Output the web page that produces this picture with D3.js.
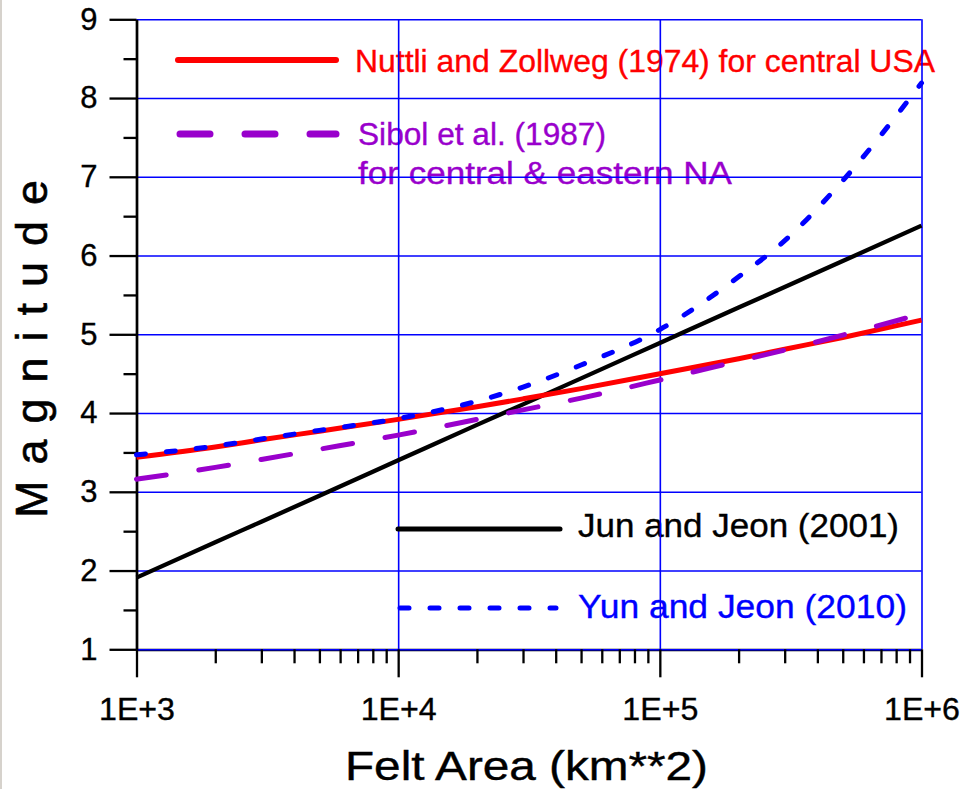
<!DOCTYPE html>
<html>
<head>
<meta charset="utf-8">
<script src="https://cdn.jsdelivr.net/npm/d3@7"></script>
<style>
  body { margin: 0; background: #fff; }
  text { font-family: "Liberation Sans", Arial, sans-serif; }
</style>
</head>
<body>
<svg id="chart"></svg>
<script>
// Felt area vs magnitude relations
const feltArea = [1000, 2000, 3000, 5000, 10000, 20000, 30000, 50000,
                  100000, 200000, 300000, 500000, 1000000];
const nuttliMag = [3.44, 3.57, 3.66, 3.77, 3.92, 4.08, 4.18, 4.31, 4.50, 4.69, 4.81, 4.96, 5.18];
const sibolMag  = [3.16, 3.31, 3.41, 3.54, 3.72, 3.92, 4.04, 4.19, 4.42, 4.66, 4.80, 4.99, 5.26];
const junMag    = [1.91, 2.36, 2.62, 2.95, 3.40, 3.85, 4.11, 4.44, 4.89, 5.34, 5.60, 5.93, 6.38];
const yunMag    = [3.47, 3.58, 3.67, 3.78, 3.93, 4.15, 4.33, 4.61, 5.06, 5.73, 6.19, 6.95, 8.19];

const xMajor = [1e3, 1e4, 1e5, 1e6];
const yMajor = [1, 2, 3, 4, 5, 6, 7, 8, 9];
const yMinor = [1.5, 2.5, 3.5, 4.5, 5.5, 6.5, 7.5, 8.5];

const seriesNames = [
    "Nuttli and Zollweg (1974) for central USA",
    "Sibol et al. (1987)",
    "for central & eastern NA",
    "Jun and Jeon (2001)",
    "Yun and Jeon (2010)"
];

const width = 961, height = 789;
const plot = { left: 136.5, right: 921.5, top: 19.3, bottom: 649.3 };

const svg = d3.select("#chart")
    .attr("width", width)
    .attr("height", height);

svg.append("rect").attr("width", width).attr("height", height).attr("fill", "#fff");
svg.append("rect").attr("width", 2).attr("height", height).attr("fill", "#d6d2cc");

const x = d3.scaleLog().domain([1e3, 1e6]).range([plot.left, plot.right]);
const y = d3.scaleLinear().domain([1, 9]).range([plot.bottom, plot.top]);

// legend labels (grid goes over them like in the original)
const legendText = [
    { t: seriesNames[0], x: 355, y: 72, size: 30.5, len: 580, c: "#ff0000" },
    { t: seriesNames[1], x: 358, y: 145, size: 31, len: 248, c: "#9900cc" },
    { t: seriesNames[2], x: 358, y: 184, size: 31, len: 374, c: "#9900cc" },
    { t: seriesNames[3], x: 578, y: 537, size: 33.5, len: 321, c: "#000" },
    { t: seriesNames[4], x: 578, y: 618, size: 33.5, len: 329, c: "#0000ff" }
];
svg.selectAll(".leg-text")
    .data(legendText)
    .enter()
    .append("text")
    .attr("x", d => d.x)
    .attr("y", d => d.y)
    .attr("font-size", d => d.size)
    .attr("textLength", d => d.len)
    .attr("lengthAdjust", "spacingAndGlyphs")
    .attr("fill", d => d.c)
    .attr("stroke", d => d.c)
    .attr("stroke-width", 0.35)
    .text(d => d.t);

// black bottom axis line sits under the blue grid line
svg.append("line")
    .attr("x1", plot.left).attr("x2", plot.right)
    .attr("y1", plot.bottom + 0.6).attr("y2", plot.bottom + 0.6)
    .attr("stroke", "#000").attr("stroke-width", 2.5);

// grid
svg.append("g")
    .attr("transform", `translate(0,${plot.bottom})`)
    .call(d3.axisBottom(x).tickValues(xMajor).tickSize(-(plot.bottom - plot.top)).tickFormat(""))
    .call(g => g.select(".domain").remove())
    .selectAll("line").attr("stroke", "#0000ff").attr("stroke-width", 1.6);

svg.append("g")
    .attr("transform", `translate(${plot.left},0)`)
    .call(d3.axisLeft(y).tickValues(yMajor).tickSize(-(plot.right - plot.left)).tickFormat(""))
    .call(g => g.select(".domain").remove())
    .selectAll("line").attr("stroke", "#0000ff").attr("stroke-width", 1.6);

// y axis
svg.append("g")
    .attr("transform", `translate(${plot.left},0)`)
    .call(d3.axisLeft(y).tickValues(yMinor).tickSize(13).tickSizeOuter(0).tickFormat(""))
    .call(g => g.select(".domain").remove())
    .selectAll("line").attr("stroke", "#000").attr("stroke-width", 2.3);

const yAxis = svg.append("g")
    .attr("transform", `translate(${plot.left},0)`)
    .call(d3.axisLeft(y).tickValues(yMajor).tickSize(27).tickSizeOuter(0).tickPadding(12));
yAxis.select(".domain").attr("stroke", "#000").attr("stroke-width", 2.7);
yAxis.selectAll("line").attr("stroke", "#000").attr("stroke-width", 2.3);
yAxis.selectAll("text").attr("font-size", 31).attr("fill", "#000")
    .attr("stroke", "#000").attr("stroke-width", 0.35)
    .attr("font-family", '"Liberation Sans", Arial, sans-serif');

// x axis
const xMinor = x.ticks().filter(v => !xMajor.includes(v));
svg.append("g")
    .attr("transform", `translate(0,${plot.bottom})`)
    .call(d3.axisBottom(x).tickValues(xMinor).tickSize(14).tickFormat(""))
    .call(g => g.select(".domain").remove())
    .selectAll("line").attr("stroke", "#000").attr("stroke-width", 2.3);

const xAxis = svg.append("g")
    .attr("transform", `translate(0,${plot.bottom})`)
    .call(d3.axisBottom(x).tickValues(xMajor).tickSize(28).tickPadding(20)
        .tickFormat(d => "1E+" + Math.round(Math.log10(d))));
xAxis.select(".domain").remove();
xAxis.selectAll("line").attr("stroke", "#000").attr("stroke-width", 2.3);
xAxis.selectAll("text").attr("font-size", 31.5).attr("fill", "#000")
    .attr("textLength", 76).attr("lengthAdjust", "spacingAndGlyphs")
    .attr("stroke", "#000").attr("stroke-width", 0.35)
    .attr("font-family", '"Liberation Sans", Arial, sans-serif');

// axis titles
svg.append("text")
    .attr("x", 345)
    .attr("y", 780)
    .attr("font-size", 40)
    .attr("textLength", 363)
    .attr("lengthAdjust", "spacingAndGlyphs")
    .attr("stroke", "#000").attr("stroke-width", 0.4)
    .text("Felt Area (km**2)");

svg.append("text")
    .attr("transform", "translate(47,518) rotate(-90)")
    .attr("font-size", 45)
    .attr("textLength", 338)
    .attr("lengthAdjust", "spacing")
    .attr("stroke", "#000").attr("stroke-width", 0.6)
    .text("Magnitude");

// curves
const line = d3.line()
    .x(d => x(d[0]))
    .y(d => y(d[1]))
    .curve(d3.curveMonotoneX);

const series = [
    { vals: junMag, c: "#000", w: 4.3, dash: null },
    { vals: nuttliMag, c: "#ff0000", w: 5, dash: null },
    { vals: sibolMag, c: "#9900cc", w: 5, dash: "30,33" },
    { vals: yunMag, c: "#0000ff", w: 5, dash: "9,21" }
];

svg.selectAll(".curve")
    .data(series)
    .enter()
    .append("path")
    .attr("d", s => line(feltArea.map((a, i) => [a, s.vals[i]])))
    .attr("fill", "none")
    .attr("stroke", s => s.c)
    .attr("stroke-width", s => s.w)
    .attr("stroke-linecap", s => s.dash ? "round" : "butt")
    .attr("stroke-dasharray", s => s.dash);

// legend lines
const legendLines = [
    { x1: 178, x2: 336, y: 60, c: "#ff0000", w: 6, dash: null },
    { x1: 180, x2: 336, y: 134, c: "#9900cc", w: 7, dash: "30,35" },
    { x1: 398, x2: 560, y: 529, c: "#000", w: 5, dash: null },
    { x1: 400, x2: 556, y: 608, c: "#0000ff", w: 5, dash: "9,21" }
];
svg.selectAll(".leg-line")
    .data(legendLines)
    .enter()
    .append("line")
    .attr("x1", d => d.x1)
    .attr("x2", d => d.x2)
    .attr("y1", d => d.y)
    .attr("y2", d => d.y)
    .attr("stroke", d => d.c)
    .attr("stroke-width", d => d.w)
    .attr("stroke-linecap", "round")
    .attr("stroke-dasharray", d => d.dash);
</script>
</body>
</html>
